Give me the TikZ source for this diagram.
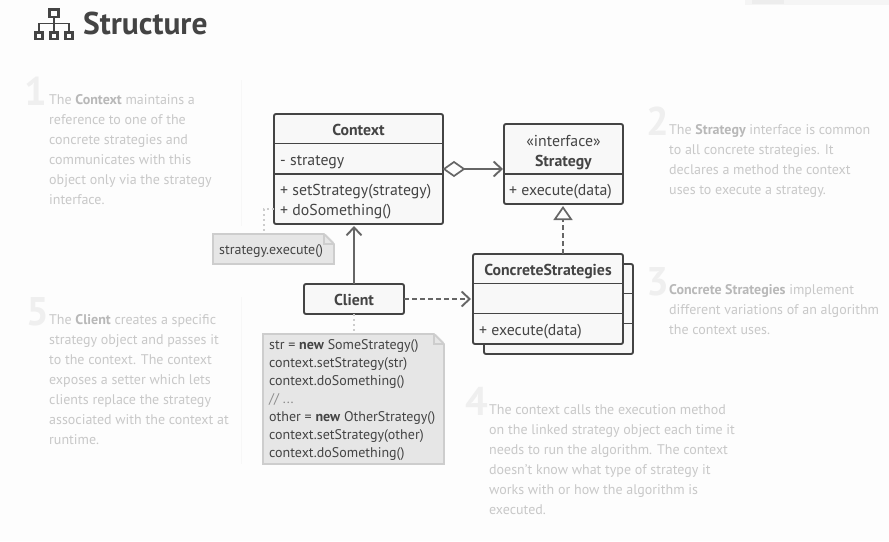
\documentclass[tikz,border=0pt]{standalone}
\usepackage{fontspec}
\setmainfont{PT Sans}
\usetikzlibrary{arrows.meta,calc,shapes.geometric,positioning}
\definecolor{pagebg}{HTML}{FDFDFD}
\definecolor{ink}{HTML}{444444}
\definecolor{link}{HTML}{666666}
\definecolor{boxfill}{HTML}{F8F8F8}
\definecolor{notefill}{HTML}{E6E6E6}
\definecolor{noteedge}{HTML}{CDCDCD}
\definecolor{para}{HTML}{C8C8C8}
\definecolor{parabold}{HTML}{B8B8B8}
\definecolor{numeral}{HTML}{EFEFEF}
\definecolor{rulefaint}{HTML}{F7F7F7}
\newcommand{\bt}[1]{{\bfseries\color{parabold}#1}}
\tikzset{
  x=1pt,y=-1pt,
  classbox/.style={draw=ink,line width=1.9pt,fill=boxfill,rounded corners=2pt,inner sep=0pt,outer sep=0pt,anchor=north west},
  divider/.style={draw=ink,line width=1.9pt},
  label/.style={text=ink,inner sep=0pt,font=\fontsize{15.8}{20}\selectfont,align=left},
  boldlabel/.style={label,font=\fontsize{15.8}{20}\selectfont\bfseries,anchor=base},
  paragraph/.style={text=para,inner sep=0pt,anchor=base west,align=left,font=\fontsize{14}{20}\selectfont},
  numeralmark/.style={text=numeral,inner sep=0pt,anchor=base west,font=\fontsize{40}{40}\selectfont\bfseries},
  notetext/.style={text=ink,inner sep=0pt,anchor=base west,align=left,font=\fontsize{14}{18}\selectfont},
  solidlink/.style={draw=link,line width=1.9pt},
  dashlink/.style={draw=link,line width=1.6pt,dash pattern=on 5pt off 3pt},
  dotlink/.style={draw=noteedge,line width=1.6pt,dash pattern=on 2pt off 3pt},
  barb/.style={-{Straight Barb[length=8pt,width=15pt,line width=1.9pt]}},
  iconpart/.style={draw=ink,line width=2.3pt,fill=none,inner sep=0pt,outer sep=0pt,anchor=north west},
}
\begin{document}
\begin{tikzpicture}
\useasboundingbox (0,0) rectangle (889,541);
\fill[pagebg] (0,0) rectangle (889,541);
\fill[black!4] (745,0) rectangle (889,5);
\fill[black!7] (752,0) rectangle (784,4);
\fill[rulefaint] (240.5,80) rectangle (242,226);
\fill[rulefaint] (240.5,297) rectangle (242,464);
% title
\node[iconpart,minimum width=9pt,minimum height=7.5pt] (icontop) at (49.5,9.5) {};
\node[iconpart,minimum width=7pt,minimum height=6.5pt] (iconl) at (35.5,32.5) {};
\node[iconpart,minimum width=7pt,minimum height=6.5pt] (iconm) at (50.5,32.5) {};
\node[iconpart,minimum width=7pt,minimum height=6.5pt] (iconr) at (65.5,32.5) {};
\coordinate (iconbar) at (54,23.5);
\draw[draw=ink,line width=1.6pt] (icontop.south) -- (iconm.north);
\draw[draw=ink,line width=1.6pt] (iconl.north) -- (iconl.north |- iconbar) -- (iconr.north |- iconbar) -- (iconr.north);
\node[text=ink,inner sep=0pt,anchor=base west,font=\fontsize{31.5}{32}\selectfont\bfseries] (title) at (83,34) {Structure};
% numerals
\node[numeralmark] (n1) at (24,105) {1};
\node[numeralmark] (n2) at (646,135) {2};
\node[numeralmark] (n3) at (646,295) {3};
\node[numeralmark] (n4) at (465,415) {4};
\node[numeralmark] (n5) at (26,325) {5};
% paragraphs (base anchor is the last line)
\node[paragraph] (p1) at (49,204) {The \bt{Context} maintains a\\reference to one of the\\concrete strategies and\\communicates with this\\object only via the strategy\\interface.};
\node[paragraph] (p2) at (669,194) {The \bt{Strategy} interface is common\\to all concrete strategies. It\\declares a method the context\\uses to execute a strategy.};
\node[paragraph] (p3) at (669,334) {\bt{Concrete Strategies} implement\\different variations of an algorithm\\the context uses.};
\node[paragraph] (p4) at (489,514) {The context calls the execution method\\on the linked strategy object each time it\\needs to run the algorithm. The context\\doesn't know what type of strategy it\\works with or how the algorithm is\\executed.};
\node[paragraph] (p5) at (49,444) {The \bt{Client} creates a specific\\strategy object and passes it\\to the context. The context\\exposes a setter which lets\\clients replace the strategy\\associated with the context at\\runtime.};
% notes
\node[fill=notefill,minimum width=121pt,minimum height=30pt,inner sep=0pt,outer sep=0pt,anchor=north west] (note1) at (213,234) {};
\node[fill=notefill,minimum width=181pt,minimum height=130pt,inner sep=0pt,outer sep=0pt,anchor=north west] (note2) at (263,334) {};
\draw[noteedge,line width=1.6pt] (note1.south west) -- (note1.north west) -- ($(note1.north east)+(-10,0)$) -- ($(note1.north east)+(0,10)$) -- (note1.south east) -- cycle;
\fill[pagebg] ($(note1.north east)+(-9,-1)$) -- ($(note1.north east)+(1,-1)$) -- ($(note1.north east)+(1,9)$) -- cycle;
\draw[noteedge,line width=1.2pt] ($(note1.north east)+(-10,0)$) -- ($(note1.north east)+(-10,10)$) -- ($(note1.north east)+(0,10)$);
\draw[noteedge,line width=1.6pt] (note2.south west) -- (note2.north west) -- ($(note2.north east)+(-10,0)$) -- ($(note2.north east)+(0,10)$) -- (note2.south east) -- cycle;
\fill[pagebg] ($(note2.north east)+(-9,-1)$) -- ($(note2.north east)+(1,-1)$) -- ($(note2.north east)+(1,9)$) -- cycle;
\draw[noteedge,line width=1.2pt] ($(note2.north east)+(-10,0)$) -- ($(note2.north east)+(-10,10)$) -- ($(note2.north east)+(0,10)$);
\node[notetext] (note1text) at (219,254) {strategy.execute()};
\node[notetext] (note2text) at (269,457) {str = \textbf{new} SomeStrategy()\\context.setStrategy(str)\\context.doSomething()\\{\color{black!45}// ...}\\other = \textbf{new} OtherStrategy()\\context.setStrategy(other)\\context.doSomething()};
% classes
\node[classbox,minimum width=169pt,minimum height=110pt] (context) at (274,114) {};
\draw[divider] ($(context.north west)+(0,29.5)$) -- ($(context.north east)+(0,29.5)$);
\draw[divider] ($(context.north west)+(0,60)$) -- ($(context.north east)+(0,60)$);
\node[boldlabel] (contextname) at (358.5,135) {Context};
\node[label,anchor=base west] (contextattr) at (280,165) {- strategy};
\node[label,anchor=base west] (contextops) at (280,215) {+ setStrategy(strategy)\\+ doSomething()};
\node[classbox,minimum width=119pt,minimum height=80pt] (strategy) at (504,124) {};
\draw[divider] ($(strategy.north west)+(0,50)$) -- ($(strategy.north east)+(0,50)$);
\node[label,anchor=base,align=center] (strategyname) at (563.5,166) {«interface»\\\textbf{Strategy}};
\node[label,anchor=base west] (strategyops) at (509,195) {+ execute(data)};
\node[classbox,minimum width=149pt,minimum height=90pt] (concreteback) at (484,264) {};
\node[classbox,minimum width=150pt,minimum height=90pt] (concrete) at (473,254) {};
\draw[divider] ($(concrete.north west)+(0,29.5)$) -- ($(concrete.north east)+(0,29.5)$);
\draw[divider] ($(concrete.north west)+(0,59.5)$) -- ($(concrete.north east)+(0,59.5)$);
\draw[divider] ($(concrete.north east)+(0,39.5)$) -- ($(concrete.north east)+(10,39.5)$);
\draw[divider] ($(concrete.north east)+(0,69.5)$) -- ($(concrete.north east)+(10,69.5)$);
\node[boldlabel] (concretename) at (548,275) {ConcreteStrategies};
\node[label,anchor=base west] (concreteops) at (479,335) {+ execute(data)};
\node[classbox,minimum width=100pt,minimum height=30pt] (client) at (304,284) {};
\node[boldlabel] (clientname) at (354,305) {Client};
% connectors
\node[draw=link,line width=1.7pt,fill=pagebg,shape=diamond,inner sep=0pt,outer sep=0pt,minimum width=20pt,minimum height=14pt,anchor=west] (aggr) at (444,169) {};
\draw[solidlink,barb] (aggr.east) -- ($(aggr.east -| strategy.west)+(-1,0)$);
\coordinate (realizeto) at ($(strategy.south)+(-0.5,2)$);
\draw[dashlink,-{Triangle[open,length=14pt,width=19pt,line width=1.7pt]}] (realizeto |- concrete.north) -- (realizeto);
\draw[solidlink,barb] (client.north) -- ($(client.north |- context.south)+(0,2)$);
\draw[dashlink,barb] (client.east) -- ($(concrete.west)+(-2,0)$);
\draw[dotlink] (client.south) -- (client.south |- note2.north);
\coordinate (noteturn) at (264,209);
\draw[dotlink] (context.west |- noteturn) -- (noteturn) -- (noteturn |- note1.north);
\end{tikzpicture}
\end{document}
